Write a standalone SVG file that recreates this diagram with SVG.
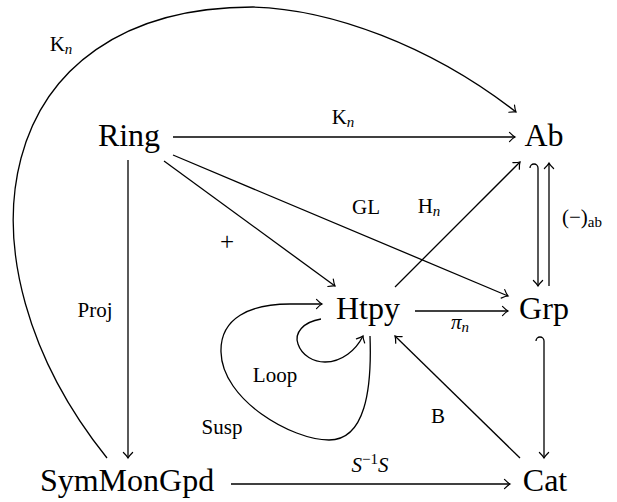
<svg xmlns="http://www.w3.org/2000/svg" width="617" height="502" viewBox="0 0 617 502">
<defs>
<marker id="ah" viewBox="-8 -7 10 14" refX="0" refY="0" markerWidth="10" markerHeight="14" markerUnits="userSpaceOnUse" orient="auto" overflow="visible">
<path d="M-5.5,-4.6 C-3.2,-2.2 -1.2,-0.6 0,0 C-1.2,0.6 -3.2,2.2 -5.5,4.6" fill="none" stroke="#000" stroke-width="1.2" stroke-linecap="round"/>
</marker>
</defs>
<style>
.node{font-family:"Liberation Serif","Times New Roman",serif;font-size:32px;fill:#000;text-anchor:middle}
.lbl{font-family:"Liberation Serif","Times New Roman",serif;font-size:21px;fill:#000;text-anchor:middle}
.it{font-style:italic}
.sub{font-size:15px}
.e{fill:none;stroke:#000;stroke-width:1.3}
.a{marker-end:url(#ah)}
</style>
<rect width="617" height="502" fill="#fff"/>
<g id="connectors">
<path class="e a" d="M107,458 C -52,260 -12,7 253,7 C 330,9 430,45 516,112"/>
<path class="e a" d="M173,137 L515,137"/>
<path class="e a" d="M128,160 L128,458"/>
<path class="e a" d="M231,484 L510,484"/>
<path class="e a" d="M164,161 L335,286"/>
<path class="e a" d="M173,155 L508,296"/>
<path class="e a" d="M395,287 L520,162"/>
<path class="e a" d="M415,311 L508,311"/>
<path class="e a" d="M520,458 L395,336"/>
<path class="e a" d="M530,168 A4,4 0 0 1 538,168 L538,286"/>
<path class="e a" d="M549,286 L549,163"/>
<path class="e a" d="M536,341 A4,4 0 0 1 544,341 L544,458"/>
<path class="e a" d="M370,336 C 372,390 365,440 329,440 C 292,440 222,400 221,352 C 220,318 250,304 290,304 L322,304"/>
<path class="e a" d="M321,319 C 303,322 294,333 298,344 C 302,356 314,362 325,362 C 342,362 356,350 363,336"/>
<text class="lbl" x="61" y="51">K<tspan class="it sub" dy="3">n</tspan></text>
<text class="lbl" x="343" y="124">K<tspan class="it sub" dy="3">n</tspan></text>
<text class="lbl" x="366" y="214">GL</text>
<text class="lbl" x="429" y="213">H<tspan class="it sub" dy="3">n</tspan></text>
<text class="lbl" x="227" y="250" style="font-size:25px">+</text>
<text class="lbl" x="562" y="224" style="text-anchor:start">(−)<tspan class="sub" dy="3">ab</tspan></text>
<text class="lbl" x="95" y="317">Proj</text>
<text class="lbl" x="460" y="329"><tspan class="it">π</tspan><tspan class="it sub" dy="3">n</tspan></text>
<text class="lbl" x="275" y="382">Loop</text>
<text class="lbl" x="222" y="434">Susp</text>
<text class="lbl" x="438" y="423">B</text>
<text class="lbl" x="370" y="472"><tspan class="it">S</tspan><tspan class="sub" dy="-8">−1</tspan><tspan class="it" dy="8">S</tspan></text>
</g>
<g id="Ring"><text class="node" x="129" y="146">Ring</text></g>
<g id="Ab"><text class="node" x="544" y="146">Ab</text></g>
<g id="Htpy"><text class="node" x="368" y="319">Htpy</text></g>
<g id="Grp"><text class="node" x="544" y="319">Grp</text></g>
<g id="SymMonGpd"><text class="node" x="127" y="491">SymMonGpd</text></g>
<g id="Cat"><text class="node" x="545" y="491">Cat</text></g>
</svg>
